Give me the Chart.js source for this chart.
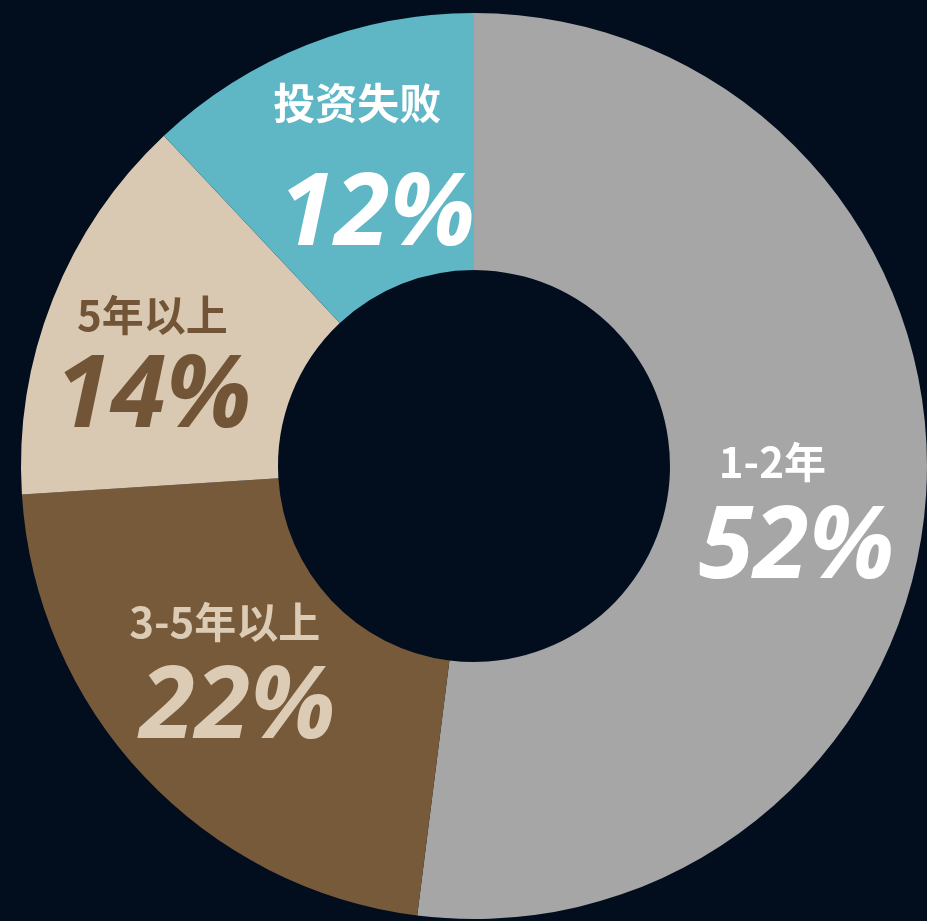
<!DOCTYPE html>
<html>
<head>
<meta charset="utf-8">
<script src="https://cdn.jsdelivr.net/npm/chart.js@4"></script>
<style>
  html, body { margin: 0; padding: 0; background: #020d1e; overflow: hidden; }
  canvas { display: block; }
</style>
</head>
<body>
<canvas id="chart" width="927" height="921"></canvas>
<script>
// data, clockwise from 12 o'clock
var categories = ["1-2年", "3-5年以上", "5年以上", "投资失败"];
var shares = [52, 22, 14, 12];
var sliceColors = ["#a6a6a6", "#765a3a", "#d9c8b2", "#5fb6c5"];
var textColors = ["#ffffff", "#dccbb5", "#725536", "#ffffff"];

// label layout tweaks (shift from mid-angle anchor, half gap between rows, x shift of percent)
var groupShift = [[-9, 16], [-11, -23], [-22, 5], [11, -12]];
var rowHalfGap = [40, 40, 38, 53];
var pctShiftX = [12, 8, -1, 10];
var labelShiftX = [-12, -5, -2, -10];

var sliceLabels = {
    id: "sliceLabels",
    afterDatasetsDraw(chart) {
        var ctx = chart.ctx;
        var arcs = chart.getDatasetMeta(0).data;
        arcs.forEach((arc, i) => {
            var mid = (arc.startAngle + arc.endAngle) / 2;
            var r = 320;
            var x = arc.x + Math.cos(mid) * r + groupShift[i][0];
            var y = arc.y + Math.sin(mid) * r + groupShift[i][1];
            ctx.save();
            ctx.fillStyle = textColors[i];
            ctx.textAlign = "center";
            ctx.textBaseline = "middle";
            ctx.font = "bold 42px 'Noto Sans CJK SC', sans-serif";
            ctx.fillText(categories[i], x + labelShiftX[i], y - rowHalfGap[i]);
            ctx.textBaseline = "alphabetic";
            ctx.font = "italic 700 100px 'Open Sans', sans-serif";
            ctx.fillText(shares[i] + "%", x + pctShiftX[i], y + rowHalfGap[i] + 36);
            ctx.restore();
        });
    }
};

new Chart(document.getElementById("chart"), {
    type: "doughnut",
    data: {
        labels: categories,
        datasets: [{
            data: shares,
            backgroundColor: sliceColors,
            borderWidth: 0,
            clip: false
        }]
    },
    options: {
        responsive: false,
        animation: false,
        cutout: 196,
        layout: { padding: { left: 21, top: 11, right: 0, bottom: 0 } },
        plugins: {
            legend: { display: false },
            tooltip: { enabled: false }
        }
    },
    plugins: [sliceLabels]
});
</script>
</body>
</html>
